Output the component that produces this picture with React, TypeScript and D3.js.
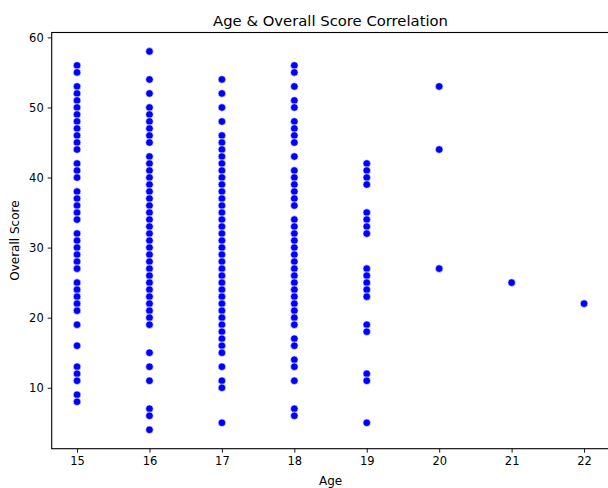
import React, { useEffect, useRef } from "react";
import * as d3 from "d3";

// Overall score of each student, grouped by age
const ages = [15, 16, 17, 18, 19, 20, 21, 22];

const scores15 = [56, 55, 53, 52, 51, 50, 49, 48, 47, 46, 45, 44, 42, 41, 40, 38, 37, 36, 35, 34, 32, 31, 30, 29, 28, 27, 25, 24, 23, 22, 21, 19, 16, 13, 12, 11, 9, 8];
const scores16 = [58, 54, 52, 50, 49, 48, 47, 46, 45, 43, 42, 41, 40, 39, 38, 37, 36, 35, 34, 33, 32, 31, 30, 29, 28, 27, 26, 25, 24, 23, 22, 21, 20, 19, 15, 13, 11, 7, 6, 4];
const scores17 = [54, 52, 50, 48, 46, 45, 44, 43, 42, 41, 40, 39, 38, 37, 36, 35, 34, 33, 32, 31, 30, 29, 28, 27, 26, 25, 24, 23, 22, 21, 20, 19, 18, 17, 16, 15, 13, 11, 10, 5];
const scores18 = [56, 55, 53, 51, 50, 48, 47, 46, 45, 43, 41, 40, 39, 38, 37, 36, 34, 33, 32, 31, 30, 29, 28, 27, 26, 25, 24, 23, 22, 21, 20, 19, 17, 16, 14, 13, 11, 7, 6];
const scores19 = [42, 41, 40, 39, 35, 34, 33, 32, 27, 26, 25, 24, 23, 19, 18, 12, 11, 5];
const scores20 = [53, 44, 27];
const scores21 = [25];
const scores22 = [22];

const scoresByAge = [scores15, scores16, scores17, scores18, scores19, scores20, scores21, scores22];

const yTicks = [10, 20, 30, 40, 50, 60];

const W = 608;
const H = 488;
const plot = { left: 51.7, right: 609.4, top: 32.5, bottom: 448.7 };
const FONT = "'DejaVu Sans', sans-serif";

export default function App() {
  const ref = useRef<SVGSVGElement>(null);

  useEffect(() => {
    const svg = d3.select(ref.current);
    svg.selectAll("*").remove();

    const points = ages.flatMap((age, i) => scoresByAge[i].map((s) => ({ age, s })));

    const xPad = (d3.max(ages)! - d3.min(ages)!) * 0.05;
    const allScores = points.map((p) => p.s);
    const yMin = d3.min(allScores)!;
    const yMax = d3.max(allScores)!;
    const yPad = (yMax - yMin) * 0.05;

    const x = d3
      .scaleLinear()
      .domain([d3.min(ages)! - xPad, d3.max(ages)! + xPad])
      .range([plot.left, plot.right]);
    const y = d3
      .scaleLinear()
      .domain([yMin - yPad, yMax + yPad])
      .range([plot.bottom, plot.top]);

    svg.append("rect").attr("width", W).attr("height", H).attr("fill", "#fff");

    // points
    svg
      .append("g")
      .selectAll("circle")
      .data(points)
      .join("circle")
      .attr("cx", (d) => x(d.age))
      .attr("cy", (d) => y(d.s))
      .attr("r", 3.8)
      .attr("fill", "#0000ff")
      .attr("stroke", "#ffffff")
      .attr("stroke-width", 0.6);

    // frame
    svg
      .append("rect")
      .attr("x", plot.left)
      .attr("y", plot.top)
      .attr("width", plot.right - plot.left)
      .attr("height", plot.bottom - plot.top)
      .attr("fill", "none")
      .attr("stroke", "#000")
      .attr("stroke-width", 1.1);

    // x axis
    const xAxis = d3
      .axisBottom(x)
      .tickValues(ages)
      .tickFormat(d3.format("d"))
      .tickSize(4)
      .tickPadding(4);
    const gx = svg.append("g").attr("transform", `translate(0,${plot.bottom})`).call(xAxis);
    gx.select(".domain").remove();
    gx.selectAll("text").attr("font-family", FONT).attr("font-size", 11.5).attr("fill", "#000");
    gx.selectAll("line").attr("stroke", "#000").attr("stroke-width", 0.9);

    // y axis
    const yAxis = d3
      .axisLeft(y)
      .tickValues(yTicks)
      .tickFormat(d3.format("d"))
      .tickSize(4)
      .tickPadding(4);
    const gy = svg.append("g").attr("transform", `translate(${plot.left},0)`).call(yAxis);
    gy.select(".domain").remove();
    gy.selectAll("text").attr("font-family", FONT).attr("font-size", 11.5).attr("fill", "#000");
    gy.selectAll("line").attr("stroke", "#000").attr("stroke-width", 0.9);

    // title and axis labels
    svg
      .append("text")
      .attr("x", (plot.left + plot.right) / 2)
      .attr("y", 25.5)
      .attr("text-anchor", "middle")
      .attr("font-family", FONT)
      .attr("font-size", 14.8)
      .text("Age & Overall Score Correlation");

    svg
      .append("text")
      .attr("x", (plot.left + plot.right) / 2)
      .attr("y", 485)
      .attr("text-anchor", "middle")
      .attr("font-family", FONT)
      .attr("font-size", 12)
      .text("Age");

    svg
      .append("text")
      .attr("transform", `translate(18.5,${(plot.top + plot.bottom) / 2}) rotate(-90)`)
      .attr("text-anchor", "middle")
      .attr("font-family", FONT)
      .attr("font-size", 12)
      .text("Overall Score");
  }, []);

  return (
    <svg
      ref={ref}
      width={W}
      height={H}
      style={{ position: "absolute", left: 0, top: 0, display: "block" }}
    />
  );
}
